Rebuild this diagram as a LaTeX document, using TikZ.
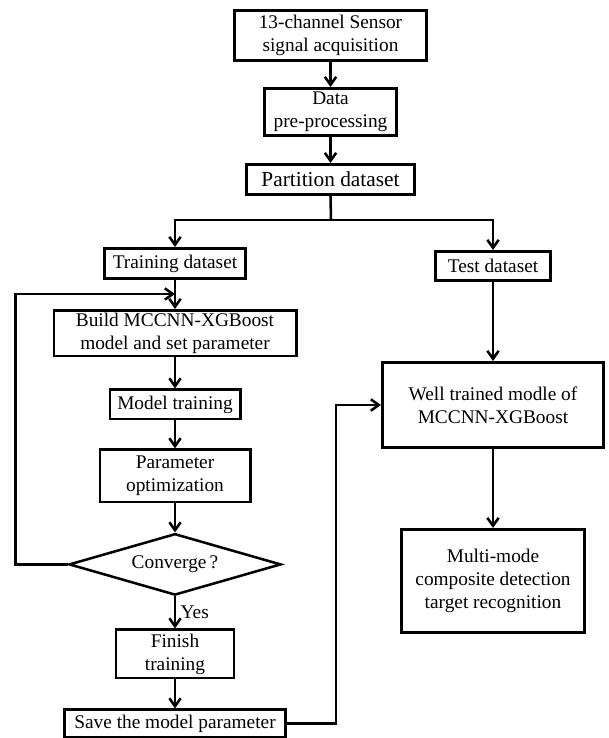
\documentclass[tikz,border=0pt]{standalone}
\usepackage{fontspec}
\setmainfont{Liberation Serif}
\usetikzlibrary{arrows.meta, positioning, shapes.geometric}

\begin{document}
\begin{tikzpicture}[x=0.75pt, y=0.75pt, >={Straight Barb[length=6pt,width=8.5pt]},
  box/.style={draw, line width=1.9pt, align=center, inner sep=2pt, font=\fontsize{14.5}{17.25}\selectfont},
  decision/.style={draw, diamond, line width=1.9pt, aspect=3.35, inner sep=0pt, font=\fontsize{14.5}{17.25}\selectfont},
  arr/.style={->, line width=1.9pt}]
\useasboundingbox (0,0) rectangle (609,-738);

% top chain
\node[box, minimum width=144.35pt, minimum height=37.85pt] (sensor) at (330.5,-35.5) {13-channel Sensor\\signal acquisition};
\node[box, minimum width=99.35pt, minimum height=35.6pt, below=18.75pt of sensor] (pre) {Data\\pre-processing};
\node[box, minimum width=126.35pt, minimum height=22.85pt, below=19.5pt of pre, font=\fontsize{16}{18}\selectfont] (part) {Partition dataset};

% training branch
\node[box, minimum width=106.1pt, minimum height=22.85pt] (train) at (175,-263.5) {Training dataset};
\node[box, minimum width=181.85pt, minimum height=33.35pt, below=21.75pt of train] (build) {Build MCCNN-XGBoost\\model and set parameter};
\node[box, minimum width=97.85pt, minimum height=22.1pt, below=23.25pt of build] (mtrain) {Model training};
\node[box, minimum width=112.85pt, minimum height=39.35pt, below=21pt of mtrain] (popt) {Parameter\\optimization};
\node[decision, minimum width=159pt, minimum height=46.1pt, below=21.75pt of popt] (conv) {Converge\,?};
\node[box, minimum width=88.5pt, minimum height=36.35pt, below=24pt of conv] (finish) {Finish\\training};
\node[box, minimum width=166.1pt, minimum height=20.6pt, below=21.75pt of finish] (save) {Save the model parameter};

% test branch
\node[box, minimum width=86.6pt, minimum height=22.1pt] (test) at (493,-266) {Test dataset};
\node[box, minimum width=166.1pt, minimum height=64.1pt, below=59.25pt of test] (well) {Well trained modle of\\MCCNN-XGBoost};
\node[box, minimum width=137.6pt, minimum height=77.6pt, below=59.25pt of well] (multi) {Multi-mode\\composite detection\\target recognition};

\coordinate (split) at (331,-220);
\coordinate (loopin) at (175,-294);

\draw[arr] (sensor) -- (pre);
\draw[arr] (pre) -- (part);
\draw[line width=1.9pt] (part.south) -- (split);
\draw[arr] (split) -| (train);
\draw[arr] (split) -| (test);
\draw[arr] (train) -- (build);
\draw[arr] (build) -- (mtrain);
\draw[arr] (mtrain) -- (popt);
\draw[arr] (popt) -- (conv);
\draw[arr] (conv) -- node[right, font=\fontsize{14.5}{17.25}\selectfont] {Yes} (finish);
\draw[arr] (finish) -- (save);
\draw[arr] (conv.west) -- ++(-52,0) |- (loopin);
\draw[arr] (save.east) -- ++(49,0) |- (well.west);
\draw[arr] (test) -- (well);
\draw[arr] (well) -- (multi);
\end{tikzpicture}
\end{document}
